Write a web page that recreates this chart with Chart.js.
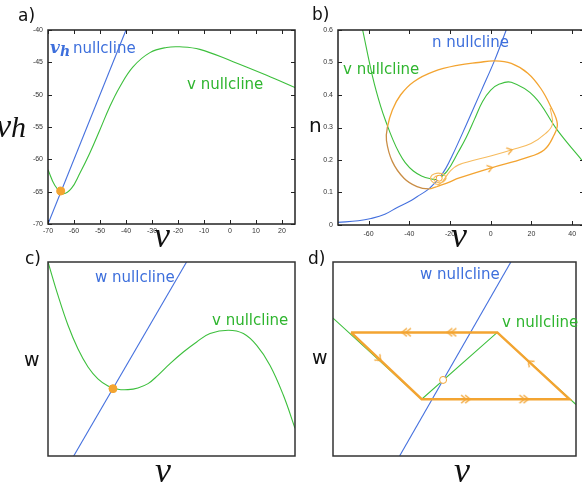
<!DOCTYPE html>
<html>
<head>
<meta charset="utf-8">
<script src="https://cdn.jsdelivr.net/npm/chart.js@4"></script>
<style>
  body { margin: 0; width: 582px; height: 493px; overflow: hidden; background: #fff; position: relative; font-family: "DejaVu Sans", sans-serif; }
  canvas { position: absolute; }
  .t { position: absolute; white-space: nowrap; line-height: 1; }
  .lbl { font-size: 15px; }
  .panel { font-size: 17px; color: #111; }
  .big { font-family: "Liberation Serif", serif; font-style: italic; font-size: 36px; color: #111; width: 40px; text-align: center; }
  .blue { color: #3d6fdc; }
  .green { color: #2fb52f; }
</style>
</head>
<body>
<canvas id="chartA" width="300" height="240" style="left:0;top:0"></canvas>
<canvas id="chartB" width="300" height="240" style="left:290px;top:0"></canvas>
<canvas id="chartC" width="300" height="240" style="left:0;top:240px"></canvas>
<canvas id="chartD" width="292" height="240" style="left:290px;top:240px"></canvas>

<div class="t panel" style="left:18px;top:7px">a)</div>
<div class="t panel" style="left:312px;top:6px">b)</div>
<div class="t panel" style="left:25px;top:250px">c)</div>
<div class="t panel" style="left:308px;top:250px">d)</div>

<div class="t blue" style="left:50px;top:39px;font-family:'DejaVu Serif',serif;font-style:italic;font-weight:bold;font-size:17px">v<span style="font-size:14px;position:relative;top:3px">h</span></div>
<div class="t lbl blue" style="left:73px;top:41px">nullcline</div>
<div class="t lbl green" style="left:187px;top:77px">v nullcline</div>
<div class="t lbl blue" style="left:432px;top:35px">n nullcline</div>
<div class="t lbl green" style="left:343px;top:62px">v nullcline</div>
<div class="t lbl blue" style="left:95px;top:270px">w nullcline</div>
<div class="t lbl green" style="left:212px;top:313px">v nullcline</div>
<div class="t lbl blue" style="left:420px;top:267px">w nullcline</div>
<div class="t lbl green" style="left:502px;top:315px">v nullcline</div>

<div class="t" style="left:-4px;top:109px;font-family:'Liberation Serif',serif;font-style:italic;font-size:34px;color:#111">v<span style="font-size:30px">h</span></div>
<div class="t" style="left:309px;top:115px;font-size:20px;color:#111">n</div>
<div class="t" style="left:24px;top:350px;font-size:19px;color:#111">w</div>
<div class="t" style="left:312px;top:348px;font-size:19px;color:#111">w</div>
<div class="t big" style="left:142px;top:217px">v</div>
<div class="t big" style="left:439px;top:217px">v</div>
<div class="t big" style="left:143px;top:452px">v</div>
<div class="t big" style="left:442px;top:452px">v</div>

<script>
// colours
const BLUE = '#4470de';
const GREEN = '#3cbf3c';
const ORANGE = '#f3a431';
const BROWN = '#c98d45';
const LIGHT_ORANGE = '#f6bb5e';

// ---- panel a: v_h vs v ----
const aXTicks = [-70, -60, -50, -40, -30, -20, -10, 0, 10, 20];
const aYTicks = [-70, -65, -60, -55, -50, -45, -40];
const aVNullV = [-70, -67.4, -64.2, -61, -57.8, -54, -50.1, -46.3, -42.4, -37.3, -30.8, -24.4, -19.3, -11.6, 1.2, 14.1, 25];
const aVNullVh = [-61.6, -64.0, -65.3, -64.5, -62.2, -59.1, -55.5, -51.9, -48.8, -45.7, -43.5, -42.7, -42.6, -43.0, -44.9, -47.0, -48.9];
const aHNullV = [-70, -40];
const aHNullVh = [-70, -40];
const aFixedV = [-65.1];
const aFixedVh = [-64.9];

// ---- panel b: n vs v ----
const bXTicks = [-60, -40, -20, 0, 20, 40];
const bYTicks = [0, 0.1, 0.2, 0.3, 0.4, 0.5, 0.6];
const bNNullV = [-75, -65, -58.8, -52, -45.9, -40, -36.2, -31, -28, -25.3, -22, -19, -12.6, -4.5, 2, 7.6];
const bNNullN = [0.008, 0.013, 0.02, 0.033, 0.054, 0.072, 0.087, 0.108, 0.126, 0.144, 0.175, 0.212, 0.30, 0.415, 0.508, 0.6];
const bVNullV = [-62.9, -58, -54, -51, -48, -45, -42, -38, -34, -30, -26.5, -21.6, -15.8, -12, -8, -4, 0, 4, 10.1, 21.4, 32.7, 46];
const bVNullN = [0.6, 0.456, 0.364, 0.31, 0.262, 0.222, 0.192, 0.166, 0.151, 0.143, 0.141, 0.164, 0.226, 0.27, 0.325, 0.38, 0.415, 0.433, 0.439, 0.395, 0.292, 0.19];
const bCycleV = [-26.5, -20, -15.8, 0.4, 16.5, 26.2, 31.1, 32.7, 29.5, 24.6, 18.2, 10.1, 2, -6.1, -15.8, -28.1, -37.8, -44.3, -48.3, -50.7, -51.2, -48.3, -42.6, -36.2, -30.5, -26.5];
const bCycleN = [0.118, 0.133, 0.144, 0.176, 0.205, 0.231, 0.277, 0.312, 0.364, 0.42, 0.467, 0.497, 0.505, 0.5, 0.492, 0.472, 0.441, 0.4, 0.354, 0.302, 0.26, 0.195, 0.144, 0.118, 0.111, 0.118];
const bSpiralV = [-24, -25, -27, -28, -27, -24.5, -22.5, -22, -24, -27.5, -29.5, -28.5, -25, -20, -15.8, 0.4, 10.1, 19.8, 27, 30.3, 29.2];
const bSpiralN = [0.145, 0.152, 0.15, 0.142, 0.133, 0.13, 0.137, 0.148, 0.158, 0.158, 0.147, 0.132, 0.126, 0.165, 0.185, 0.213, 0.231, 0.251, 0.282, 0.31, 0.36];
const bFixedV = [-25.3];
const bFixedN = [0.144];
const bArrowV = [9.3, -0.4];
const bArrowN = [0.229, 0.175];
const bArrowRot = [-16, -17];

// ---- panel c: w vs v (arbitrary units) ----
const cWNullV = [10.4, 56.1];
const cWNullW = [0, 100];
const cVNullV = [0, 4.05, 8.1, 12.1, 16.2, 20.2, 24.3, 28.3, 32.4, 36.4, 40.5, 44.5, 49.4, 54.8, 60.2, 65.6, 73, 79.1, 84.5, 89.9, 95.3, 100];
const cVNullW = [100, 82.8, 67.4, 55.3, 45.9, 39.8, 36.1, 34.4, 34.2, 35.1, 37.3, 41.6, 47.6, 53.6, 58.8, 63.1, 64.8, 63.1, 57, 46.7, 31.3, 14.3];
const cFixedV = [26.3];
const cFixedW = [34.7];

// ---- panel d: piecewise-linear relaxation oscillator ----
const dWNullV = [27.4, 73.2];
const dWNullW = [0, 100];
const dVNullV = [0, 36.5, 67.6, 100];
const dVNullW = [71.1, 29.3, 63.7, 26.5];
const dCycleV = [7.4, 67.6, 97.3, 36.5, 7.4];
const dCycleW = [63.7, 63.7, 29.3, 29.3, 63.7];
const dFixedV = [45.3];
const dFixedW = [39.2];
const dDoubleV = [30.2, 48.9, 54.6, 78.6];
const dDoubleW = [63.7, 63.7, 29.3, 29.3];
const dDoubleRot = [180, 180, 0, 0];
const dSingleV = [18.9, 81.1];
const dSingleW = [50.1, 48.1];
const dSingleRot = [43, 222];

function zip(xs, ys) {
    return xs.map((x, i) => ({ x: x, y: ys[i] }));
}

// chevron images used as point styles
function chevron(w, h, count, gap, lw) {
    const c = document.createElement('canvas');
    c.width = w; c.height = h;
    const g = c.getContext('2d');
    g.strokeStyle = ORANGE;
    g.lineWidth = lw;
    for (let k = 0; k < count; k++) {
        const o = 1 + k * gap;
        g.beginPath();
        g.moveTo(o, 1);
        g.lineTo(o + (w - 2 - (count - 1) * gap), h / 2);
        g.lineTo(o, h - 1);
        g.stroke();
    }
    return c;
}
const smallArrow = chevron(7, 9, 1, 0, 1.3);
const singleArrow = chevron(7, 10, 1, 0, 1.3);
const doubleArrow = chevron(11, 10, 2, 4, 1.3);

// box around the plot area, with inward ticks when asked
const framePlugin = {
    id: 'frame',
    afterDraw(chart, args, opts) {
        const ctx = chart.ctx;
        const a = chart.chartArea;
        ctx.save();
        ctx.strokeStyle = opts.color;
        ctx.lineWidth = opts.width;
        ctx.strokeRect(a.left, a.top, a.right - a.left, a.bottom - a.top);
        if (opts.ticks) {
            ctx.lineWidth = 1;
            ctx.beginPath();
            chart.scales.x.ticks.forEach(t => {
                const px = Math.round(chart.scales.x.getPixelForValue(t.value)) + 0.5;
                ctx.moveTo(px, a.bottom); ctx.lineTo(px, a.bottom - 4);
                ctx.moveTo(px, a.top); ctx.lineTo(px, a.top + 4);
            });
            chart.scales.y.ticks.forEach(t => {
                const py = Math.round(chart.scales.y.getPixelForValue(t.value)) + 0.5;
                ctx.moveTo(a.left, py); ctx.lineTo(a.left + 4, py);
                ctx.moveTo(a.right, py); ctx.lineTo(a.right - 4, py);
            });
            ctx.stroke();
        }
        ctx.restore();
    }
};

function line(data, color, width, tension) {
    return { data: data, showLine: true, borderColor: color, borderWidth: width, pointRadius: 0, tension: tension, fill: false };
}
function dots(data, fill, border, radius) {
    return { data: data, showLine: false, pointRadius: radius, pointBackgroundColor: fill, pointBorderColor: border, pointBorderWidth: 1 };
}
function arrows(data, img, rot) {
    return { data: data, showLine: false, pointStyle: img, pointRotation: rot, pointRadius: 5 };
}

function tickAxis(min, max, ticks, size, pad) {
    return {
        type: 'linear', min: min, max: max,
        grid: { display: false, drawTicks: false },
        border: { display: false },
        ticks: { font: { size: 7, family: 'Liberation Sans' }, color: '#333', padding: pad, maxRotation: 0, autoSkip: false },
        afterBuildTicks: s => { s.ticks = ticks.map(v => ({ value: v })); },
        afterFit: s => { if (s.isHorizontal()) s.height = size; else s.width = size; }
    };
}
function plainAxis() {
    return { type: 'linear', min: 0, max: 100, display: false };
}

function makeChart(id, datasets, scales, padding, frame) {
    return new Chart(document.getElementById(id), {
        type: 'scatter',
        data: { datasets: datasets },
        options: {
            responsive: false,
            animation: false,
            events: [],
            layout: { padding: padding },
            scales: scales,
            plugins: { legend: { display: false }, tooltip: { enabled: false }, frame: frame }
        },
        plugins: [framePlugin]
    });
}

function init() {
    makeChart('chartA', [
        dots(zip(aFixedV, aFixedVh), ORANGE, ORANGE, 4),
        line(zip(aVNullV, aVNullVh), GREEN, 1.1, 0.4),
        line(zip(aHNullV, aHNullVh), BLUE, 1.1, 0)
    ], {
        x: tickAxis(-70, 25, aXTicks, 16, 3),
        y: tickAxis(-70, -40, aYTicks, 48, 5)
    }, { top: 30, right: 5, left: 0, bottom: 0 }, { color: '#222', width: 1.5, ticks: true });

    // limit cycle: the lower-left arc looks darker in the original
    const cycle = line(zip(bCycleV, bCycleN), ORANGE, 1.3, 0.4);
    cycle.segment = {
        borderColor: c => (c.p0.parsed.x < -27 && c.p0.parsed.y < 0.31 && c.p1.parsed.y < c.p0.parsed.y + 0.001) ? BROWN : ORANGE
    };

    makeChart('chartB', [
        dots(zip(bFixedV, bFixedN), '#fff', ORANGE, 3),
        arrows(zip(bArrowV, bArrowN), smallArrow, bArrowRot),
        line(zip(bSpiralV, bSpiralN), LIGHT_ORANGE, 1.1, 0.4),
        cycle,
        line(zip(bVNullV, bVNullN), GREEN, 1.1, 0.4),
        line(zip(bNNullV, bNNullN), BLUE, 1.1, 0.4)
    ], {
        x: tickAxis(-75, 45.8, bXTicks, 15, 5),
        y: tickAxis(0, 0.6, bYTicks, 48, 5)
    }, { top: 30, right: 3, left: 0, bottom: 0 }, { color: '#222', width: 1.5, ticks: true });

    makeChart('chartC', [
        dots(zip(cFixedV, cFixedW), ORANGE, ORANGE, 4),
        line(zip(cVNullV, cVNullW), GREEN, 1.1, 0.4),
        line(zip(cWNullV, cWNullW), BLUE, 1.1, 0)
    ], { x: plainAxis(), y: plainAxis() },
    { top: 22, right: 5, left: 48, bottom: 24 }, { color: '#333', width: 1.5, ticks: false });

    makeChart('chartD', [
        dots(zip(dFixedV, dFixedW), '#fff', ORANGE, 3.5),
        arrows(zip(dDoubleV, dDoubleW), doubleArrow, dDoubleRot),
        arrows(zip(dSingleV, dSingleW), singleArrow, dSingleRot),
        line(zip(dCycleV, dCycleW), ORANGE, 2.5, 0),
        line(zip(dVNullV, dVNullW), GREEN, 1.1, 0),
        line(zip(dWNullV, dWNullW), BLUE, 1.1, 0)
    ], { x: plainAxis(), y: plainAxis() },
    { top: 22, right: 2, left: 43, bottom: 24 }, { color: '#333', width: 1.5, ticks: false });
}

document.addEventListener('DOMContentLoaded', init);
</script>
</body>
</html>
